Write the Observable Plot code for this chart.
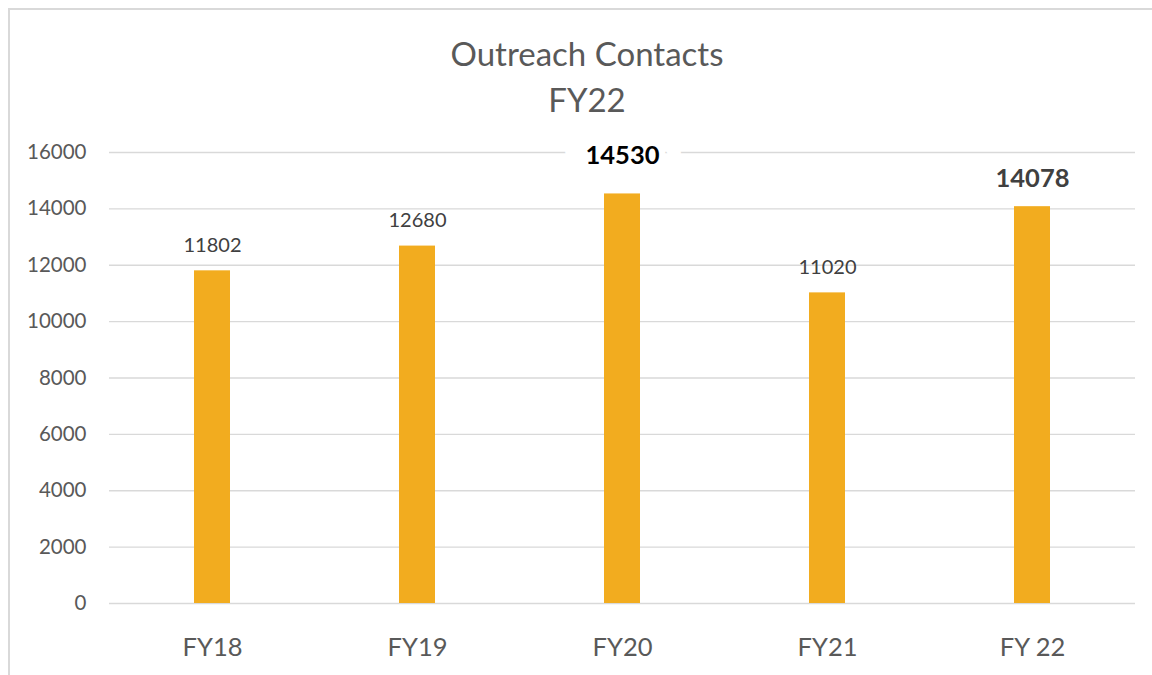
<!DOCTYPE html>
<html>
<head>
<meta charset="utf-8">
<script src="https://cdn.jsdelivr.net/npm/d3@7"></script>
<script src="https://cdn.jsdelivr.net/npm/@observablehq/plot@0.6"></script>
<style>
  html, body { margin: 0; padding: 0; background: #fff; }
  #wrap { position: relative; width: 1152px; height: 675px; overflow: hidden; font-family: Lato, "Open Sans", sans-serif; }
  #frame { position: absolute; left: 8px; top: 8px; width: 1200px; height: 700px; border-left: 2px solid #d9d9d9; border-top: 2px solid #d9d9d9; box-sizing: border-box; }
  #title { position: absolute; left: 0; width: 1174px; top: 30px; text-align: center; color: #595959; font-size: 33px; line-height: 46px; }
  #chart { position: absolute; left: 0; top: 0; }
</style>
</head>
<body>
<div id="wrap">
  <div id="frame"></div>
  <div id="title">Outreach Contacts<br>FY22</div>
  <div id="chart"></div>
</div>
<script>
const categories = ["FY18", "FY19", "FY20", "FY21", "FY 22"];
const values = [11802, 12680, 14530, 11020, 14078];
const yTicks = [0, 2000, 4000, 6000, 8000, 10000, 12000, 14000, 16000];

const data = categories.map((c, i) => ({cat: c, value: values[i]}));
const normal = data.filter(d => d.cat === "FY18" || d.cat === "FY19" || d.cat === "FY21");
const boldBlack = data.filter(d => d.cat === "FY20");
const boldGray = data.filter(d => d.cat === "FY 22");

const chart = Plot.plot({
  width: 1152,
  height: 675,
  marginLeft: 109,
  marginRight: 17,
  marginTop: 152,
  marginBottom: 72,
  style: {fontFamily: "Lato, 'Open Sans', sans-serif", background: "transparent", overflow: "visible"},
  x: {domain: categories, paddingInner: 0.825, paddingOuter: 0.4125, label: null, tickSize: 0},
  y: {domain: [0, 16000], ticks: yTicks, label: null, tickSize: 0},
  marks: [
    Plot.gridY(yTicks, {stroke: "#d9d9d9", strokeOpacity: 1, strokeWidth: 1.3}),
    Plot.axisY({ticks: yTicks, tickSize: 0, tickPadding: 23, fontSize: 20.5, fill: "#595959", tickFormat: d => String(d), label: null}),
    Plot.axisX({tickSize: 0, tickPadding: 34, fontSize: 25.5, fill: "#595959", label: null}),
    Plot.barY(data, {x: "cat", y: "value", fill: "#f2ac1f"}),
    Plot.text(normal, {x: "cat", y: "value", text: d => String(d.value), dy: -25, fontSize: 20, fill: "#404040"}),
    Plot.text(boldBlack, {x: "cat", y: "value", text: d => String(d.value), dy: -38, fontSize: 25.5, fontWeight: "bold", fill: "#000", stroke: "white", strokeWidth: 44, strokeLinejoin: "round"}),
    Plot.text(boldGray, {x: "cat", y: "value", text: d => String(d.value), dy: -28, fontSize: 25.5, fontWeight: "bold", fill: "#404040"})
  ]
});
document.getElementById("chart").appendChild(chart);
</script>
</body>
</html>
